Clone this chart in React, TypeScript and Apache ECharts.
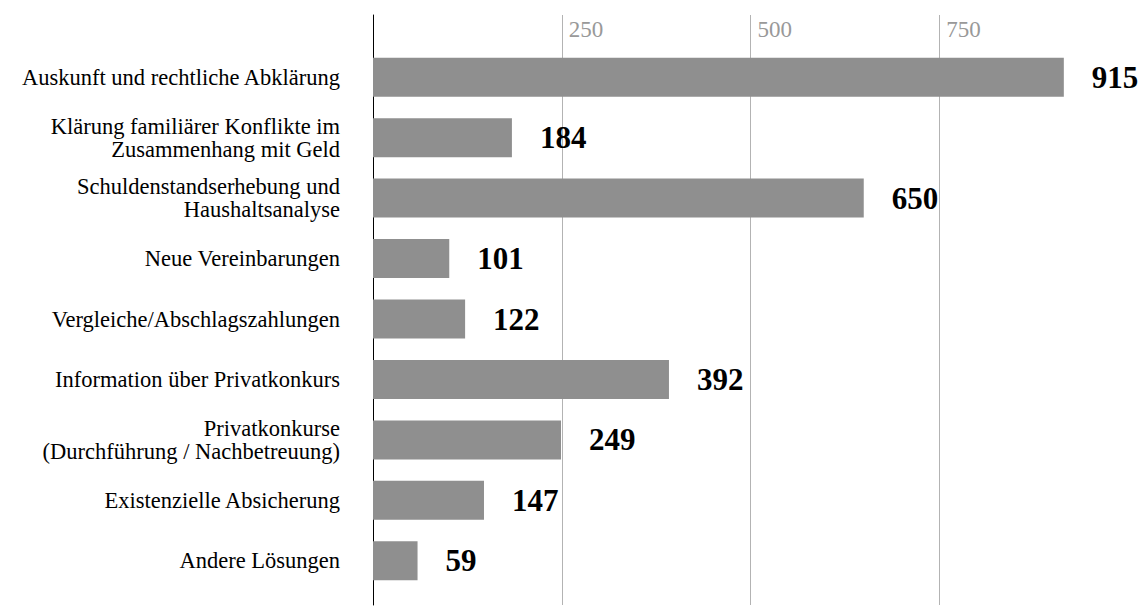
import React, { useEffect, useRef } from "react";
import * as echarts from "echarts";

const categories = [
  "Auskunft und rechtliche Abklärung",
  "Klärung familiärer Konflikte im\nZusammenhang mit Geld",
  "Schuldenstandserhebung und\nHaushaltsanalyse",
  "Neue Vereinbarungen",
  "Vergleiche/Abschlagszahlungen",
  "Information über Privatkonkurs",
  "Privatkonkurse\n(Durchführung / Nachbetreuung)",
  "Existenzielle Absicherung",
  "Andere Lösungen",
];
const values = [915, 184, 650, 101, 122, 392, 249, 147, 59];
const axisMin = 0;
const axisMax = 1000;
const axisInterval = 250;

const FONT = "'Liberation Serif', 'Times New Roman', serif";

export default function App() {
  const ref = useRef<HTMLDivElement>(null);
  useEffect(() => {
    if (!ref.current) return;
    const chart = echarts.init(ref.current, undefined, { renderer: "svg" });
    chart.setOption({
      animation: false,
      backgroundColor: "#ffffff",
      grid: [
        { left: 373, right: 17, top: 15, bottom: 1 },
        { left: 373, right: 17, top: 47, bottom: 15 },
      ],
      xAxis: [
        {
          gridIndex: 0,
          type: "value",
          min: axisMin,
          max: axisMax,
          interval: axisInterval,
          position: "top",
          axisLine: { show: false },
          axisTick: { show: false },
          splitLine: {
            show: true,
            showMinLine: false,
            showMaxLine: false,
            lineStyle: { color: "#b3b3b3", width: 1 },
          },
          axisLabel: {
            inside: true,
            margin: 3,
            align: "left",
            verticalAlign: "top",
            padding: [0, 0, 0, 7],
            color: "#999999",
            fontSize: 23,
            fontFamily: FONT,
            formatter: (v: number) => (v === axisMin || v === axisMax ? "" : String(v)),
          },
        },
        {
          gridIndex: 1,
          type: "value",
          min: axisMin,
          max: axisMax,
          show: false,
        },
      ],
      yAxis: [
        {
          gridIndex: 0,
          type: "value",
          min: 0,
          max: 1,
          axisLine: { show: true, lineStyle: { color: "#000000", width: 1 } },
          axisTick: { show: false },
          axisLabel: { show: false },
          splitLine: { show: false },
        },
        {
          gridIndex: 1,
          type: "category",
          data: categories,
          inverse: true,
          axisLine: { show: false },
          axisTick: { show: false },
          splitLine: { show: false },
          axisLabel: {
            margin: 33,
            fontSize: 22.5,
            lineHeight: 23,
            color: "#000000",
            fontFamily: FONT,
            align: "right",
          },
        },
      ],
      series: [
        {
          type: "bar",
          xAxisIndex: 1,
          yAxisIndex: 1,
          data: values,
          barWidth: 39,
          itemStyle: { color: "#8f8f8f" },
          label: {
            show: true,
            position: "right",
            distance: 28,
            fontSize: 31,
            fontWeight: "bold",
            fontFamily: FONT,
            color: "#000000",
          },
        },
      ],
    });
    return () => chart.dispose();
  }, []);
  return (
    <div
      ref={ref}
      style={{ position: "fixed", left: 0, top: 0, width: 1145, height: 606, background: "#fff" }}
    />
  );
}
